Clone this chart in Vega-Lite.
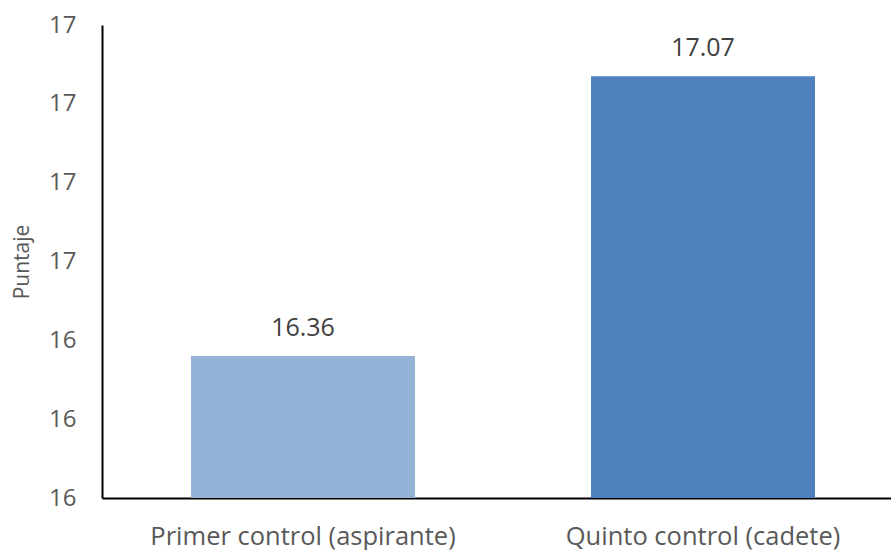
{
  "$schema": "https://vega.github.io/schema/vega-lite/v6.json",
  "width": 802,
  "height": 473,
  "autosize": {"type": "none"},
  "padding": {"left": 102, "top": 25, "right": 0, "bottom": 52},
  "background": "white",
  "config": {
    "view": {"stroke": null},
    "font": "Open Sans"
  },
  "data": {
    "values": [
      {"control": "Primer control (aspirante)", "puntaje": 16.36, "color": "#95B3D7"},
      {"control": "Quinto control (cadete)", "puntaje": 17.07, "color": "#4F81BD"}
    ]
  },
  "encoding": {
    "x": {
      "field": "control",
      "type": "nominal",
      "sort": null,
      "scale": {"paddingInner": 0.44, "paddingOuter": 0.2225},
      "axis": {
        "title": null,
        "labelAngle": 0,
        "labelFontSize": 25.5,
        "labelColor": "#595959",
        "labelPadding": 26,
        "labelLimit": 400,
        "ticks": false,
        "domainColor": "#000000",
        "domainWidth": 2
      }
    },
    "y": {
      "field": "puntaje",
      "type": "quantitative",
      "scale": {"domain": [16, 17.2], "zero": false, "nice": false},
      "axis": {
        "values": [16, 16.2, 16.4, 16.6, 16.8, 17, 17.2],
        "format": ".0f",
        "title": "Puntaje",
        "titleFontSize": 21,
        "titleFontWeight": "normal",
        "titleColor": "#595959",
        "titlePadding": 16,
        "labelFontSize": 24,
        "labelColor": "#595959",
        "labelPadding": 26,
        "ticks": false,
        "grid": false,
        "domainColor": "#000000",
        "domainWidth": 2
      }
    }
  },
  "layer": [
    {
      "mark": {"type": "bar"},
      "encoding": {
        "y2": {"datum": 16},
        "color": {"field": "color", "type": "nominal", "scale": null}
      }
    },
    {
      "mark": {"type": "text", "dy": -28, "fontSize": 25, "color": "#404040"},
      "encoding": {
        "text": {"field": "puntaje", "type": "quantitative", "format": ".2f"}
      }
    }
  ]
}
